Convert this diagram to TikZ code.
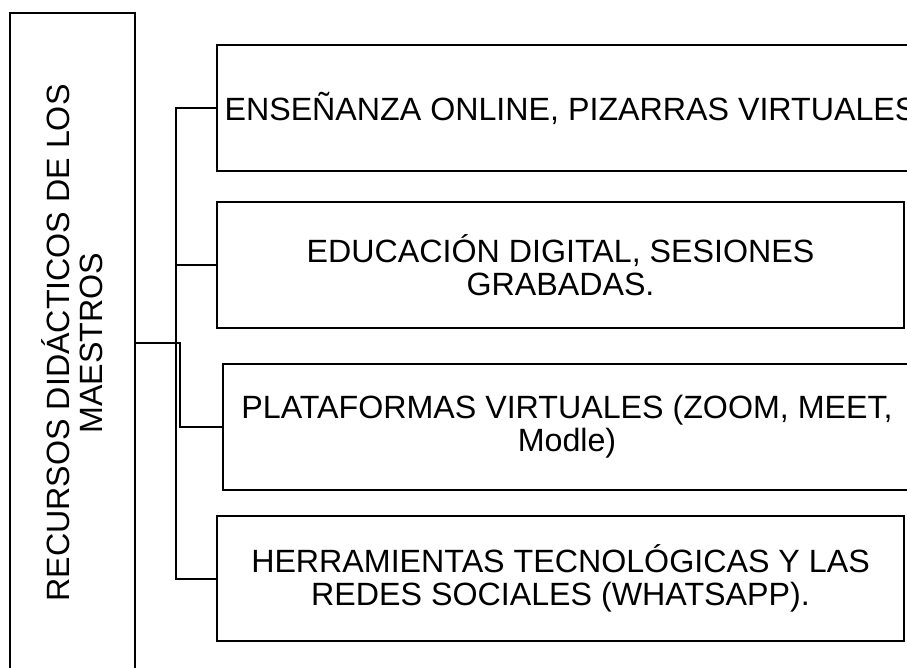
\documentclass[tikz,border=0pt]{standalone}
\usepackage{fontspec}
\setmainfont{Liberation Sans}
\usepackage{tikz}
\usetikzlibrary{positioning}
\tikzset{
  box/.style={draw,line width=2pt,rectangle,inner sep=0pt,align=center,
    minimum height=126pt},
  link/.style={line width=2pt},
  every node/.style={font=\fontsize{32.2}{33}\selectfont}
}

\begin{document}
\begin{tikzpicture}[x=1pt,y=-1pt]
  \useasboundingbox (0,0) rectangle (907,668);
  \node[box,rotate=90,minimum width=660pt,minimum height=125pt] (main) at (72.5,343)
    {RECURSOS DIDÁCTICOS DE LOS\\MAESTROS};
  \node[box,minimum width=707pt] (online) at (570.5,108)
    {ENSEÑANZA ONLINE, PIZARRAS VIRTUALES};
  \node[box,minimum width=687pt] (digital) at (560.5,265)
    {EDUCACIÓN DIGITAL, SESIONES\\GRABADAS.};
  \node[box,minimum width=688pt] (plataformas) at (567,427)
    {PLATAFORMAS VIRTUALES (ZOOM, MEET,\\Modle)};
  \node[box,minimum width=687pt,minimum height=125pt] (redes) at (560.5,578.5)
    {HERRAMIENTAS TECNOLÓGICAS Y LAS\\REDES SOCIALES (WHATSAPP).};
  % branch points
  \coordinate (forkA) at (176,343);
  \coordinate (forkB) at (180,343);
  \draw[link] (main.south) -- (forkA) |- (online.west);
  \draw[link] (forkA) |- (digital.west);
  \draw[link] (forkA) |- (redes.west);
  \draw[link] (forkA) -- (forkB) |- (plataformas.west);
\end{tikzpicture}
\end{document}
